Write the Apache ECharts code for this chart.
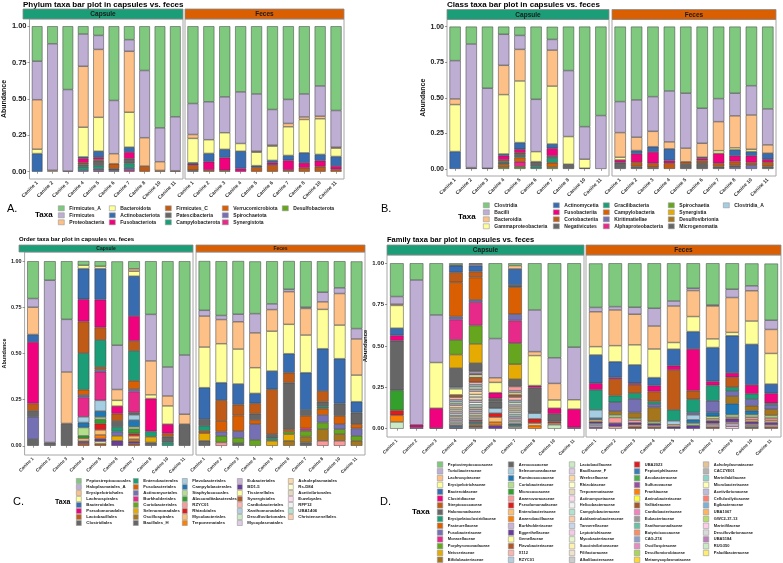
<!DOCTYPE html>
<html>
<head>
<meta charset="utf-8">
<script src="https://cdn.jsdelivr.net/npm/echarts@6/dist/echarts.min.js"></script>
<style>
  html, body { margin: 0; padding: 0; background: #fff; }
  #chart { width: 783px; height: 563px; }
</style>
</head>
<body>
<div id="chart"></div>
<script>
// ---- data ----
const samples = ['Canine 1', 'Canine 2', 'Canine 3', 'Canine 4', 'Canine 5', 'Canine 6', 'Canine 7', 'Canine 8', 'Canine 10', 'Canine 11'];
const yTicks = [0, 0.25, 0.5, 0.75, 1];
const yTickLabels = ['0.00', '0.25', '0.50', '0.75', '1.00'];

// RColorBrewer Accent, Dark2, Paired, Pastel1, Pastel2, Set1, Set2, Set3
const palette = [
  '#7FC97F', '#BEAED4', '#FDC086', '#FFFF99', '#386CB0', '#F0027F', '#BF5B17', '#666666',
  '#1B9E77', '#D95F02', '#7570B3', '#E7298A', '#66A61E', '#E6AB02', '#A6761D', '#666666',
  '#A6CEE3', '#1F78B4', '#B2DF8A', '#33A02C', '#FB9A99', '#E31A1C', '#FDBF6F', '#FF7F00', '#CAB2D6', '#6A3D9A', '#FFFF99', '#B15928',
  '#FBB4AE', '#B3CDE3', '#CCEBC5', '#DECBE4', '#FED9A6', '#FFFFCC', '#E5D8BD', '#FDDAEC', '#F2F2F2',
  '#B3E2CD', '#FDCDAC', '#CBD5E8', '#F4CAE4', '#E6F5C9', '#FFF2AE', '#F1E2CC', '#CCCCCC',
  '#E41A1C', '#377EB8', '#4DAF4A', '#984EA3', '#FF7F00', '#FFFF33', '#A65628', '#F781BF', '#999999',
  '#66C2A5', '#FC8D62', '#8DA0CB', '#E78AC3', '#A6D854', '#FFD92F', '#E5C494', '#B3B3B3',
  '#8DD3C7', '#FFFFB3', '#BEBADA', '#FB8072', '#80B1D3', '#FDB462', '#B3DE69', '#FCCDE5', '#D9D9D9', '#BC80BD', '#CCEBC5', '#FFED6F'
];

// phylum: one row per sample, values in taxa order
const phylumTaxa = ['Firmicutes_A', 'Firmicutes', 'Proteobacteria', 'Bacteroidota', 'Actinobacteriota', 'Fusobacteriota', 'Firmicutes_C',
  'Patescibacteria', 'Campylobacterota', 'Verrucomicrobiota', 'Spirochaetota', 'Synergistota', 'Desulfobacterota'];
const phylumCapsule = [
  [0.24, 0.265, 0.34, 0.03, 0.125],
  [0.12, 0.87, 0.01],
  [0.435, 0.56, 0.005],
  [0.053, 0.222, 0.419, 0.204, 0.01, 0.03, 0.012, 0.016, 0.022, 0, 0.012],
  [0.062, 0.096, 0.467, 0.233, 0.041, 0.015, 0.01, 0.035, 0.02, 0, 0.012, 0.008],
  [0.51, 0.366, 0.069, 0, 0, 0, 0.035, 0.01, 0, 0, 0.01],
  [0.092, 0.08, 0.419, 0.24, 0.034, 0.046, 0, 0.032, 0.03, 0, 0.015, 0.012],
  [0.304, 0.462, 0.195, 0, 0, 0, 0.039],
  [0.698, 0.233, 0.06, 0, 0, 0, 0.009],
  [0.622, 0.371, 0, 0, 0, 0, 0.007]
];
const phylumFeces = [
  [0.531, 0.213, 0.027, 0.167, 0.007, 0.01, 0.035, 0.01],
  [0.519, 0.261, 0, 0.094, 0.057, 0.057, 0.012],
  [0.485, 0.247, 0, 0.114, 0.057, 0.087, 0.01],
  [0.451, 0.355, 0, 0.053, 0.119, 0.022],
  [0.465, 0.394, 0.007, 0.092, 0.011, 0, 0.031],
  [0.572, 0.245, 0.007, 0.098, 0.016, 0.016, 0.046],
  [0.503, 0.165, 0.023, 0.197, 0.034, 0.066, 0.012],
  [0.465, 0.158, 0.018, 0.229, 0.069, 0.034, 0.027],
  [0.41, 0.208, 0.018, 0.245, 0.043, 0.041, 0.035],
  [0.579, 0.252, 0.007, 0.057, 0.066, 0.023, 0.016]
];

const classTaxa = ['Clostridia', 'Bacilli', 'Bacteroidia', 'Gammaproteobacteria', 'Actinomycetia', 'Fusobacteriia', 'Coriobacteriia',
  'Negativicutes', 'Gracilibacteria', 'Campylobacteria', 'Kiritimatiellae', 'Alphaproteobacteria', 'Spirochaetia', 'Synergistia',
  'Desulfovibrionia', 'Microgenomatia', 'Clostridia_A'];
const classCapsule = [
  [0.239, 0.269, 0.04, 0.33, 0.122],
  [0.122, 0.869, 0, 0, 0, 0, 0, 0.009],
  [0.433, 0.562, 0, 0, 0, 0, 0, 0.005],
  [0.054, 0.218, 0.206, 0.417, 0.012, 0.03, 0.011, 0.01, 0.01, 0.02, 0, 0, 0.012],
  [0.061, 0.098, 0.222, 0.433, 0.047, 0.025, 0.01, 0.013, 0.01, 0.03, 0, 0.035, 0.015],
  [0.511, 0.368, 0, 0.07, 0, 0, 0, 0.035, 0.016],
  [0.089, 0.075, 0.253, 0.407, 0.03, 0.054, 0, 0.015, 0.033, 0.03, 0, 0, 0.013],
  [0.309, 0.464, 0, 0.194, 0, 0, 0, 0.033],
  [0.703, 0.229, 0, 0.063, 0, 0, 0, 0.005],
  [0.625, 0.375]
];
const classFeces = [
  [0.527, 0.218, 0.173, 0.019, 0, 0.019, 0, 0.044],
  [0.515, 0.262, 0.094, 0, 0.023, 0.059, 0.03, 0.017],
  [0.492, 0.244, 0.108, 0, 0.037, 0.08, 0.028, 0.011],
  [0.452, 0.358, 0.049, 0, 0.082, 0.019, 0.04],
  [0.468, 0.386, 0.096, 0, 0, 0, 0.016, 0.034],
  [0.574, 0.246, 0.098, 0, 0.008, 0.015, 0.019, 0.04],
  [0.506, 0.162, 0.204, 0.019, 0, 0.07, 0.023, 0.016],
  [0.468, 0.159, 0.225, 0.014, 0.042, 0.04, 0.028, 0.012, 0, 0, 0.012],
  [0.415, 0.206, 0.241, 0.016, 0.03, 0.047, 0.019, 0, 0, 0, 0.026],
  [0.578, 0.253, 0.059, 0, 0.042, 0.021, 0.03, 0.017]
];

// order and family: one row per sample, [taxon index, abundance] pairs
const orderTaxa = ['Peptostreptococcales', 'Haloplasmatales_A', 'Erysipelotrichales', 'Lachnospirales', 'Bacteroidales', 'Pseudomonadales',
  'Lactobacillales', 'Clostridiales', 'Enterobacterales', 'Fusobacteriales', 'Actinomycetales', 'Burkholderiales', 'Coriobacteriales',
  'Selenomonadales', 'Oscillospirales', 'Bacillales_H', 'Flavobacteriales', 'Campylobacterales', 'Staphylococcales',
  'Absconditabacterales', 'RZYC01', 'Rhizobiales', 'Mycobacteriales', 'Treponematales', 'Eubacteriales', 'BD1-5', 'Tissierellales',
  'Synergistales', 'Cardiobacteriales', 'Xanthomonadales', 'Desulfovibrionales', 'Mycoplasmatales', 'Acholeplasmatales', 'Rs-D84',
  'Acetivibrionales', 'Euzebyales', 'RFP12', 'UBA1406', 'Christensenellales'];
const orderCapsule = [
  [[0, .202], [1, .047], [2, .148], [4, .041], [5, .333], [6, .04], [7, .032], [10, .121], [15, .036]],
  [[0, .103], [1, .879], [7, .018]],
  [[0, .315], [1, .285], [2, .279], [7, .121]],
  [[0, .023], [3, .018], [4, .166], [5, .121], [6, .171], [8, .198], [9, .029], [10, .013], [11, .105], [16, .031], [17, .027], [18, .045], [19, .014], [22, .015], [25, .01], [27, .015]],
  [[0, .027], [3, .013], [4, .168], [5, .151], [6, .068], [8, .146], [9, .013], [10, .013], [11, .155], [16, .058], [17, .032], [18, .013], [19, .023], [21, .034], [22, .027], [23, .02], [25, .015], [26, .012], [27, .012]],
  [[0, .454], [1, .24], [2, .059], [3, .031], [5, .041], [6, .04], [7, .032], [8, .025], [10, .023], [13, .027], [25, .027]],
  [[0, .041], [2, .013], [3, .027], [4, .216], [5, .135], [6, .054], [8, .162], [9, .045], [10, .013], [11, .113], [15, .013], [16, .029], [17, .036], [18, .013], [19, .023], [21, .013], [22, .018], [23, .012], [25, .012], [27, .012]],
  [[0, .288], [1, .252], [2, .184], [3, .02], [5, .178], [8, .029], [13, .031], [15, .018]],
  [[0, .573], [1, .157], [2, .054], [3, .099], [5, .05], [6, .018], [7, .031], [8, .018]],
  [[0, .508], [1, .321], [2, .054], [7, .117]]
];
const orderFeces = [
  [[0, .267], [1, .031], [2, .168], [3, .22], [4, .171], [7, .036], [8, .027], [9, .013], [13, .041], [15, .027]],
  [[0, .294], [1, .022], [2, .131], [3, .211], [4, .095], [6, .112], [9, .058], [10, .023], [12, .036], [20, .018]],
  [[0, .288], [1, .041], [2, .148], [3, .189], [4, .112], [6, .059], [9, .085], [10, .036], [12, .029], [15, .014]],
  [[0, .283], [1, .104], [2, .189], [3, .139], [4, .054], [6, .056], [7, .034], [9, .023], [10, .085], [12, .032]],
  [[0, .231], [1, .031], [2, .117], [3, .216], [4, .099], [6, .243], [7, .023], [8, .013], [13, .027]],
  [[0, .153], [1, .013], [2, .177], [3, .159], [4, .103], [6, .054], [7, .252], [9, .013], [12, .014], [13, .036], [14, .027]],
  [[0, .249], [1, .007], [2, .144], [3, .204], [4, .202], [7, .032], [9, .068], [11, .013], [12, .031], [14, .032], [15, .018]],
  [[0, .168], [1, .052], [2, .041], [3, .213], [4, .229], [6, .058], [7, .027], [8, .011], [9, .034], [10, .041], [12, .036], [14, .063], [20, .027]],
  [[0, .144], [1, .031], [2, .171], [3, .182], [4, .243], [7, .067], [9, .045], [10, .027], [12, .027], [14, .036], [20, .027]],
  [[0, .364], [1, .056], [2, .196], [3, .144], [4, .059], [7, .063], [9, .023], [10, .04], [12, .027], [14, .027]]
];

const familyTaxa = ['Peptostreptococcaceae', 'Turicibacteraceae', 'Lachnospiraceae', 'Erysipelotrichaceae', 'Bacteroidaceae', 'Clostridiaceae',
  'Streptococcaceae', 'Halomonadaceae', 'Erysipelatoclostridiaceae', 'Pasteurellaceae', 'Fusobacteriaceae', 'Moraxellaceae',
  'Porphyromonadaceae', 'Neisseriaceae', 'Bifidobacteriaceae', 'Aerococcaceae', 'Selenomonadaceae', 'Ruminococcaceae',
  'Coriobacteriaceae', 'Micrococcaceae', 'Anaerovoracaceae', 'Pseudomonadaceae', 'Enterobacteriaceae', 'Anaerobacillaceae',
  'Burkholderiaceae', 'Eggerthellaceae', 'Gemellaceae', 'Flavobacteriaceae', 'X112', 'RZYC01 ', 'Lactobacillaceae', 'Bacillaceae_F',
  'Weeksellaceae', 'Rhizobiaceae', 'Treponemataceae', 'Actinomycetaceae', 'Helicobacteraceae', 'Campylobacteraceae',
  'Acidaminobacteraceae', 'Tannerellaceae', 'Leptotrichiaceae', 'Mycobacteriaceae', 'Succinivibrionaceae', 'Filifactoraceae',
  'Alkalibacteraceae', 'UBA2023', 'Peptoniphilaceae', 'Arcobacteraceae', 'Sulfurovaceae', 'Frankiaceae', 'Aminobacteriaceae',
  'Vallitaleaceae', 'Cardiobacteriaceae', 'Eubacteriaceae', 'Xanthomonadaceae', 'Butyricicoccaceae', 'CAG-274', 'Oscillospiraceae',
  'Desulfomicrobiaceae', 'Metamycoplasmataceae', 'Acholeplasmataceae', 'CACZYE01', 'Marinilabiliaceae', 'Microbacteriaceae',
  'Acetivibrionaceae', 'Cellulosilyticaceae', 'Egibacteraceae', 'UBA1067', 'GWC2-37-13', 'Marinifilaceae', 'Desulfovibrionaceae',
  'UBA5184', 'RUG350', 'Paludibacteraceae'];
const familyCapsule = [
  [[0, .201], [1, .046], [2, .008], [3, .137], [4, .044], [5, .032], [7, .30], [19, .121], [21, .03], [23, .04], [30, .041]],
  [[0, .101], [1, .875], [5, .016], [25, .008]],
  [[0, .312], [1, .288], [3, .276], [5, .12], [25, .004]],
  [[0, .01], [1, .005], [4, .04], [6, .06], [9, .207], [10, .018], [11, .123], [12, .089], [13, .082], [15, .115], [16, .01], [26, .036],
    [27, .015], [28, .015], [29, .012], [30, .012], [31, .01], [32, .015], [33, .01], [34, .012], [35, .01], [36, .012], [37, .01],
    [38, .012], [39, .01], [40, .01], [41, .01], [44, .01], [45, .005], [46, .01], [48, .005]],
  [[0, .005], [1, .009], [4, .036], [6, .036], [9, .135], [10, .014], [11, .141], [12, .111], [13, .117], [15, .05], [24, .012],
    [25, .008], [26, .015], [27, .03], [28, .015], [29, .012], [30, .015], [31, .012], [32, .02], [33, .015], [34, .02], [35, .012],
    [36, .015], [37, .015], [38, .012], [39, .012], [40, .012], [41, .012], [42, .01], [43, .01], [44, .01], [45, .008], [46, .01],
    [47, .008], [49, .008], [51, .008], [53, .01]],
  [[0, .455], [1, .237], [2, .028], [3, .062], [5, .034], [7, .02], [15, .04], [16, .03], [21, .024], [22, .03], [23, .02], [25, .02]],
  [[0, .014], [2, .02], [4, .097], [7, .014], [9, .163], [10, .038], [11, .137], [12, .127], [13, .091], [15, .044], [20, .025],
    [24, .012], [26, .012], [27, .015], [28, .02], [29, .012], [30, .015], [31, .012], [32, .012], [33, .01], [34, .012], [36, .012],
    [37, .012], [39, .01], [40, .012], [41, .01], [44, .012], [46, .008], [47, .008], [53, .014]],
  [[0, .282], [1, .252], [2, .024], [3, .181], [5, .012], [7, .151], [15, .004], [16, .034], [21, .026], [22, .016], [23, .018]],
  [[0, .571], [1, .155], [2, .1], [3, .05], [5, .034], [7, .046], [21, .01], [22, .01], [30, .024]],
  [[0, .507], [1, .318], [3, .056], [5, .111], [25, .008]]
];
const familyFeces = [
  [[0, .266], [1, .026], [2, .211], [3, .05], [4, .171], [5, .04], [8, .121], [16, .05], [17, .01], [22, .012], [25, .01], [29, .01], [31, .012], [48, .01]],
  [[0, .262], [1, .02], [2, .216], [3, .097], [4, .095], [5, .01], [6, .1], [8, .04], [10, .054], [14, .022], [18, .016], [20, .034], [25, .02], [28, .014]],
  [[0, .266], [1, .042], [2, .185], [3, .121], [4, .111], [5, .01], [6, .05], [8, .034], [10, .083], [14, .034], [18, .012], [20, .016], [25, .012], [28, .012], [51, .012]],
  [[0, .272], [1, .107], [2, .139], [3, .173], [4, .048], [5, .036], [6, .06], [8, .016], [10, .02], [14, .085], [18, .012], [25, .012], [28, .01], [51, .01]],
  [[0, .228], [1, .03], [2, .221], [3, .04], [4, .1], [5, .026], [6, .241], [8, .066], [16, .024], [22, .012], [25, .012]],
  [[0, .151], [1, .014], [2, .157], [3, .091], [4, .105], [5, .252], [6, .052], [8, .08], [10, .014], [16, .03], [17, .02], [18, .014], [25, .02]],
  [[0, .252], [1, .006], [2, .199], [3, .052], [4, .205], [5, .024], [8, .093], [10, .07], [17, .024], [18, .015], [22, .012], [25, .015], [28, .01], [31, .012], [51, .011]],
  [[0, .157], [1, .05], [2, .211], [3, .02], [4, .225], [5, .026], [6, .06], [8, .024], [10, .03], [14, .046], [17, .066], [18, .015], [20, .01], [25, .02], [28, .01], [31, .015], [40, .015]],
  [[0, .135], [1, .03], [2, .183], [3, .141], [4, .245], [5, .054], [8, .032], [10, .04], [14, .03], [17, .024], [18, .015], [20, .015], [22, .012], [25, .015], [28, .01], [29, .008], [51, .01]],
  [[0, .342], [1, .056], [2, .145], [3, .185], [4, .056], [5, .06], [8, .01], [10, .026], [14, .038], [18, .015], [20, .015], [22, .012], [25, .015], [28, .012], [51, .011]]
];

// ---- layout ----
const FONT = '"Liberation Sans", Arial, sans-serif';
const panels = [
  { taxa: phylumTaxa, capsule: phylumCapsule, feces: phylumFeces,
    title: 'Phylum taxa bar plot in capsules vs. feces', titleXY: [23, 4.5], titleSize: 8,
    grids: [[23, 19, 160, 160], [185, 19, 159, 160]], stripTop: 9, stripH: 10, stripFont: 6.5,
    yFont: 7.5, xFont: 5, nameFont: 7, nameGap: 15,
    letter: [7, 209], taxaXY: [35, 215], taxaFont: 8,
    legendX: [58, 109, 165, 222, 282], legendTop: 205.5, cols: [3, 3, 3, 3, 1], key: [6, 5], keyGap: 1.4, legendFont: 5 },
  { taxa: classTaxa, capsule: classCapsule, feces: classFeces,
    title: 'Class taxa bar plot in capsules vs. feces', titleXY: [447, 4.5], titleSize: 8,
    grids: [[447, 19.5, 162, 156.5], [612, 19.5, 164, 156.5]], stripTop: 9.5, stripH: 10, stripFont: 6.5,
    yFont: 7, xFont: 5, nameFont: 7, nameGap: 16,
    letter: [381, 209], taxaXY: [458, 217], taxaFont: 8,
    legendX: [483, 553, 603, 668, 723], legendTop: 202.5, cols: [4, 4, 4, 4, 1], key: [6, 5], keyGap: 1.4, legendFont: 5 },
  { taxa: orderTaxa, capsule: orderCapsule, feces: orderFeces,
    title: 'Order taxa bar plot in capsules vs. feces', titleXY: [19, 239], titleSize: 6,
    grids: [[19, 252, 174, 203], [196, 252, 169, 203]], stripTop: 245, stripH: 7, stripFont: 5,
    yFont: 5.5, xFont: 4.5, nameFont: 5.5, nameGap: 13,
    letter: [13, 502], taxaXY: [55, 502], taxaFont: 7,
    legendX: [76, 133, 182, 237, 288], legendTop: 478.2, cols: [8, 8, 8, 8, 7], key: [5, 5], keyGap: 0.4, legendFont: 4.3 },
  { taxa: familyTaxa, capsule: familyCapsule, feces: familyFeces,
    title: 'Family taxa bar plot in capsules vs. feces', titleXY: [387, 240], titleSize: 7.5,
    grids: [[387, 255, 197, 182], [586, 255, 195, 182]], stripTop: 245, stripH: 10, stripFont: 6.5,
    yFont: 6, xFont: 4.5, nameFont: 6, nameGap: 14,
    letter: [380, 502], taxaXY: [412, 512], taxaFont: 8,
    legendX: [437, 508, 569, 634, 703], legendTop: 461.5, cols: [15, 15, 15, 15, 14], key: [5.5, 5.5], keyGap: 0.7, legendFont: 4 }
];
const letters = ['A.', 'B.', 'C.', 'D.'];
const facets = [{ name: 'Capsule', color: '#1B9E77' }, { name: 'Feces', color: '#D95F02' }];

function densify(row, n) {
  const out = new Array(n).fill(0);
  if (Array.isArray(row[0])) row.forEach(([i, v]) => { out[i] = v; });
  else row.forEach((v, i) => { out[i] = v; });
  return out;
}

const grid = [], xAxis = [], yAxis = [], series = [], legend = [], graphic = [];

panels.forEach((p, pi) => {
  graphic.push({ type: 'text', style: { text: p.title, x: p.titleXY[0], y: p.titleXY[1], fontSize: p.titleSize, fontWeight: 'bold',
    fontFamily: FONT, fill: '#000', verticalAlign: 'middle' } });
  graphic.push({ type: 'text', style: { text: letters[pi], x: p.letter[0], y: p.letter[1], fontSize: 11, fontFamily: FONT,
    fill: '#000', verticalAlign: 'middle' } });
  graphic.push({ type: 'text', style: { text: 'Taxa', x: p.taxaXY[0], y: p.taxaXY[1], fontSize: p.taxaFont, fontWeight: 'bold',
    fontFamily: FONT, fill: '#000', verticalAlign: 'middle' } });

  [p.capsule, p.feces].forEach((rows, fi) => {
    const gi = pi * 2 + fi;
    const [l, t, w, h] = p.grids[fi];
    const first = fi === 0;
    grid.push({ left: l, top: t, width: w, height: h, show: true, borderColor: '#a6a6a6', borderWidth: 1, backgroundColor: '#fff' });
    graphic.push({ type: 'rect', shape: { x: l, y: p.stripTop, width: w, height: p.stripH },
      style: { fill: facets[fi].color, stroke: '#8c8c8c', lineWidth: 0.8 } });
    graphic.push({ type: 'text', style: { text: facets[fi].name, x: l + w / 2, y: p.stripTop + p.stripH / 2 + 0.5,
      fontSize: p.stripFont, fontWeight: 'bold', fontFamily: FONT, fill: '#1a1a1a', align: 'center', verticalAlign: 'middle' } });
    xAxis.push({ type: 'category', gridIndex: gi, data: samples,
      axisLine: { show: false },
      axisTick: { show: true, length: 2, alignWithLabel: true, lineStyle: { color: '#333', width: 0.5 } },
      axisLabel: { rotate: 45, interval: 0, margin: 3, fontSize: p.xFont, fontWeight: 'bold', color: '#333', fontFamily: FONT } });
    yAxis.push({ type: 'value', gridIndex: gi, min: -0.05, max: 1.05,
      splitLine: { show: false }, axisLine: { show: false },
      axisTick: { show: first, length: 2, customValues: yTicks, lineStyle: { color: '#333', width: 0.5 } },
      axisLabel: { show: first, customValues: yTicks, margin: 3, fontSize: p.yFont, fontWeight: 'bold', color: '#222', fontFamily: FONT,
        formatter: v => yTickLabels[yTicks.indexOf(v)] || '' },
      name: first ? 'Abundance' : '', nameLocation: 'middle', nameGap: p.nameGap, nameRotate: 90,
      nameTextStyle: { fontSize: p.nameFont, fontWeight: 'bold', color: '#111', fontFamily: FONT } });

    const dense = rows.map(r => densify(r, p.taxa.length));
    for (let k = p.taxa.length - 1; k >= 0; k--) {
      series.push({ type: 'bar', name: p.taxa[k], xAxisIndex: gi, yAxisIndex: gi, stack: 'st' + gi, barWidth: '69%',
        data: dense.map(d => (d[k] > 0 ? d[k] : null)),
        itemStyle: { color: palette[k], borderColor: '#3a3a3a', borderWidth: 0.5 },
        silent: true, emphasis: { disabled: true } });
    }
  });

  let start = 0;
  p.cols.forEach((n, ci) => {
    legend.push({ orient: 'vertical', left: p.legendX[ci], top: p.legendTop, height: 200, padding: 0, icon: 'rect', selectedMode: false,
      itemWidth: p.key[0], itemHeight: p.key[1], itemGap: p.keyGap,
      data: p.taxa.slice(start, start + n),
      itemStyle: { borderColor: '#999', borderWidth: 0.6 },
      textStyle: { fontSize: p.legendFont, lineHeight: p.key[1], fontWeight: 'bold', color: '#222', fontFamily: FONT } });
    start += n;
  });
});

const chart = echarts.init(document.getElementById('chart'), null, { renderer: 'canvas' });
chart.setOption({ animation: false, backgroundColor: '#fff', grid, xAxis, yAxis, series, legend, graphic });
</script>
</body>
</html>
